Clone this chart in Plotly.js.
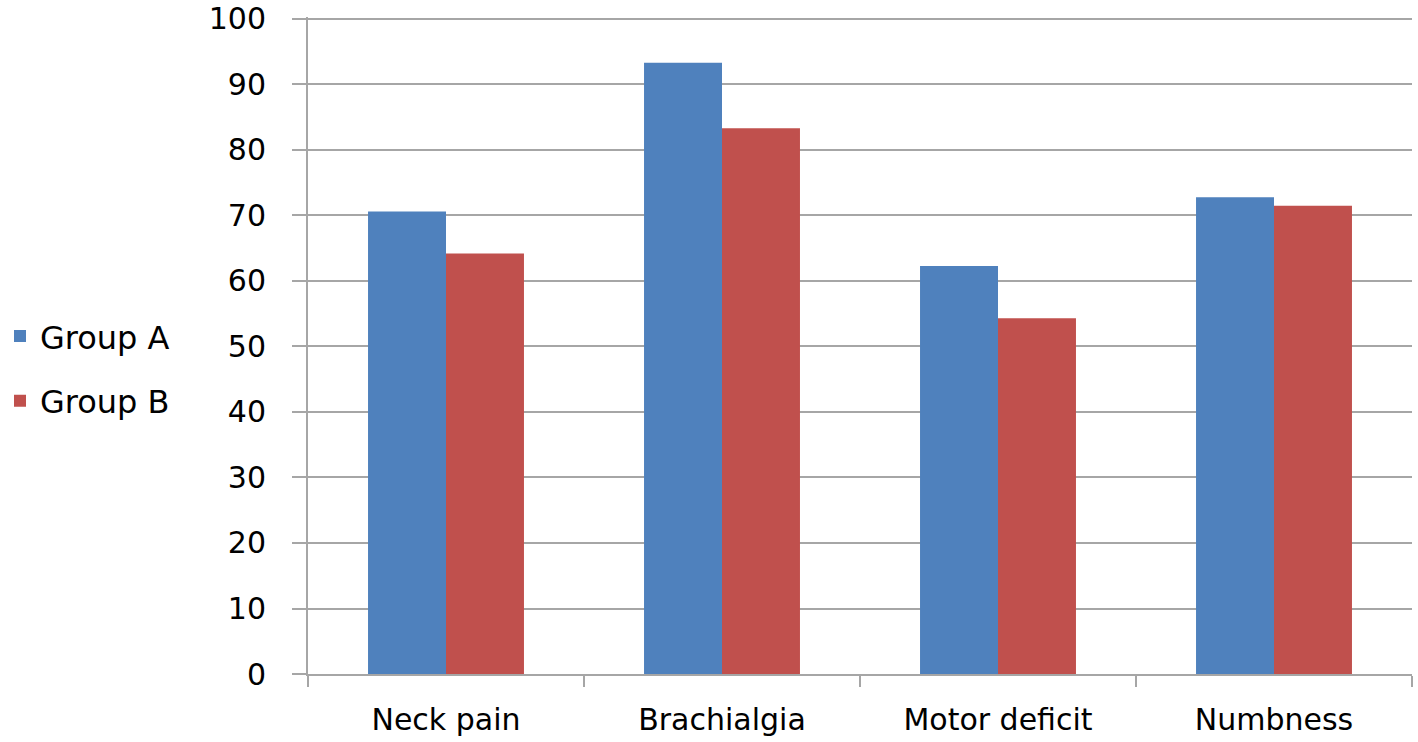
<!DOCTYPE html>
<html>
<head>
<meta charset="utf-8">
<script src="https://cdn.plot.ly/plotly-3.0.1.min.js"></script>
<style>html,body{margin:0;padding:0;background:#fff;}#chart{width:1418px;height:742px;}</style>
</head>
<body>
<div id="chart"></div>
<script>
const categories = ["Neck pain", "Brachialgia", "Motor deficit", "Numbness"];
const groupA = [70.6, 93.3, 62.3, 72.8];
const groupB = [64.2, 83.3, 54.3, 71.5];
const yTicks = [0, 10, 20, 30, 40, 50, 60, 70, 80, 90, 100];

const FONT = "DejaVu Sans, sans-serif";
const gridColor = "#a6a6a6";

const traces = [
  {type: "bar", name: "Group A", x: categories, y: groupA, legendgroup: "a",
   marker: {color: "#4f81bd", line: {width: 0}}},
  {type: "bar", name: "Group B", x: categories, y: groupB, legendgroup: "b",
   marker: {color: "#c0504d", line: {width: 0}}}
];

const layout = {
  width: 1418, height: 742,
  margin: {l: 308, r: 6, t: 17, b: 68},
  paper_bgcolor: "#ffffff", plot_bgcolor: "#ffffff",
  font: {family: FONT, size: 30, color: "#000000"},
  barmode: "group", bargap: 0.435, bargroupgap: 0,
  showlegend: true,
  legend: {
    xref: "container", yref: "container", x: 0, y: 0.503, xanchor: "left", yanchor: "middle",
    traceorder: "grouped", tracegroupgap: 20,
    font: {family: FONT, size: 32, color: "#000000"},
    bgcolor: "rgba(0,0,0,0)", itemclick: false
  },
  xaxis: {
    type: "category", tickson: "boundaries", ticks: "outside", ticklen: 11, tickwidth: 2,
    tickcolor: gridColor, showline: true, linecolor: gridColor, linewidth: 2,
    showgrid: false, tickfont: {family: FONT, size: 30, color: "#000"},
    ticklabelstandoff: 18, ticklabeloverflow: "allow"
  },
  yaxis: {
    range: [0, 100.3], tickvals: yTicks, ticktext: yTicks.map(String),
    ticks: "outside", ticklen: 14, tickwidth: 2, tickcolor: gridColor,
    showline: true, linecolor: gridColor, linewidth: 2,
    showgrid: true, gridcolor: gridColor, gridwidth: 2, zeroline: false,
    tickfont: {family: FONT, size: 30, color: "#000"},
    ticklabelstandoff: 20, ticklabeloverflow: "allow"
  }
};

Plotly.newPlot("chart", traces, layout, {displayModeBar: false, staticPlot: true});
</script>
</body>
</html>
